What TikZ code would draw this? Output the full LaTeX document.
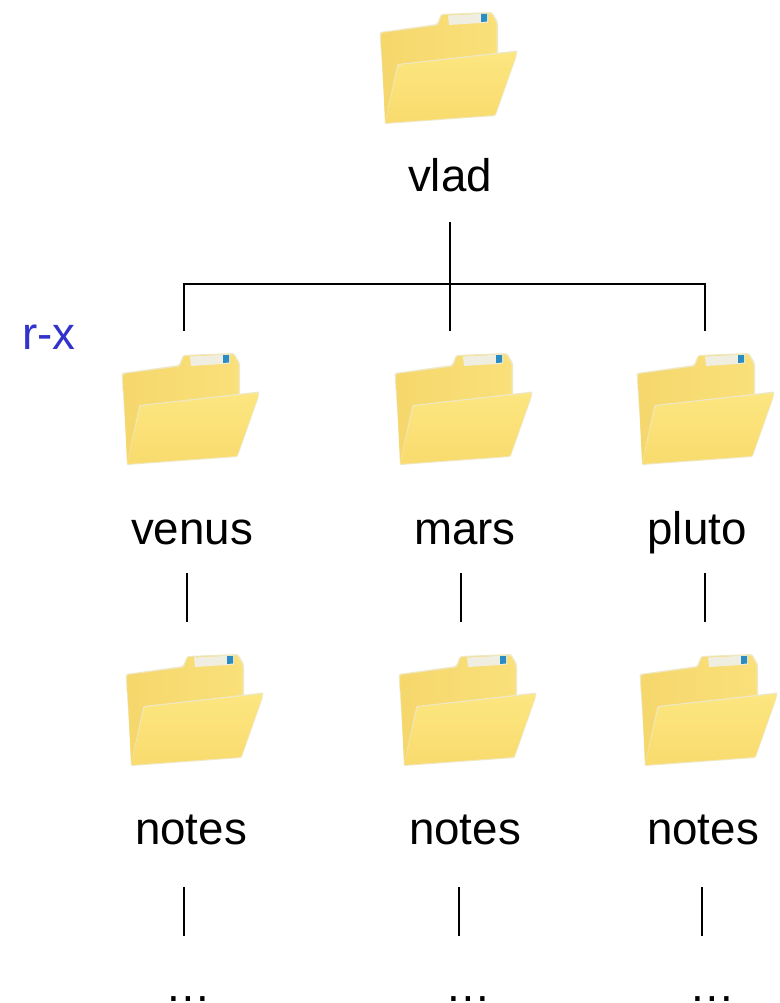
\documentclass[tikz,border=0pt]{standalone}
\usepackage{fontspec}
\setmainfont{Liberation Sans}
\definecolor{fbackA}{HTML}{F5D76C}
\definecolor{fbackB}{HTML}{FAE07A}
\definecolor{ffrontA}{HTML}{FCE680}
\definecolor{ffrontB}{HTML}{F9DB6E}
\definecolor{fedge}{HTML}{EFE8C4}
\definecolor{fpaper}{HTML}{EFEEE0}
\definecolor{ftag}{HTML}{2A8CC0}
\definecolor{permblue}{HTML}{3333CC}
\tikzset{
  x=1pt,y=-1pt,
  lab/.style={font=\fontsize{45.7pt}{50pt}\selectfont,anchor=base,inner sep=0pt,text=black},
  conn/.style={draw=black,line width=1.4pt},
  folder/.pic={
    \fill[fedge,rounded corners=1.5pt] (19.5,32) -- (77,24) -- (81,14) -- (132,12) -- (138,22) -- (138,56) -- (100,100) -- (26,124.5) -- cycle;
    \shade[left color=fbackA,right color=fbackB,rounded corners=1.5pt] (21,33) -- (78,25.5) -- (82,15) -- (131.5,13.5) -- (136.5,23) -- (136.5,60) -- (100,100) -- (25,123) -- cycle;
    \fill[fpaper] (88,15.5) -- (128,13.5) -- (128,22.5) -- (89,25) -- cycle;
    \fill[ftag] (121,14) -- (127,14) -- (127,21.5) -- (121,22) -- cycle;
    \fill[fedge,rounded corners=1pt] (37.5,64) -- (157.5,50.5) -- (156,58) -- (135.5,116) -- (24.5,124) -- cycle;
    \shade[top color=ffrontA,bottom color=ffrontB,rounded corners=1.5pt] (38.5,65) -- (156.5,52) -- (155,58) -- (135,115) -- (25,123) -- cycle;
  }
}
\begin{document}
\begin{tikzpicture}
\useasboundingbox[fill=white] (0,0) rectangle (779,1003);
\pic (fvlad) at (360,0) {folder};
\pic (fvenus) at (102,341) {folder};
\pic (fmars) at (375,341) {folder};
\pic (fpluto) at (617,341) {folder};
\pic (fnotesa) at (106,642) {folder};
\pic (fnotesb) at (379,642) {folder};
\pic (fnotesc) at (620,642) {folder};
\node[lab] (vlad) at (450,192) {vlad};
\node[lab] (venus) at (192,544) {venus};
\node[lab] (mars) at (465,544) {mars};
\node[lab] (pluto) at (697,544) {pluto};
\node[lab] (notesa) at (191,844) {notes};
\node[lab] (notesb) at (465,844) {notes};
\node[lab] (notesc) at (703,844) {notes};
\node[lab,text=permblue] (perm) at (49,349) {r-x};
\node[lab] (dotsa) at (188,1001) {…};
\node[lab] (dotsb) at (468,1001) {…};
\node[lab] (dotsc) at (712,1001) {…};
\coordinate (trunktop) at (450,222);
\coordinate (trunkbot) at (450,331);
\coordinate (barl) at (184,284);
\coordinate (barm) at (450,284);
\coordinate (barr) at (705,284);
\coordinate (dropl) at (184,331);
\coordinate (dropr) at (705,331);
\coordinate (a1) at (187,573); \coordinate (a2) at (187,622);
\coordinate (b1) at (461,573); \coordinate (b2) at (461,622);
\coordinate (c1) at (705,573); \coordinate (c2) at (705,622);
\coordinate (d1) at (184,887); \coordinate (d2) at (184,936);
\coordinate (e1) at (459,887); \coordinate (e2) at (459,936);
\coordinate (f1) at (702,887); \coordinate (f2) at (702,936);
\draw[conn] (trunktop) -- (trunkbot);
\draw[conn] (dropl) -- (barl) -- (barm) -- (barr) -- (dropr);
\draw[conn] (a1) -- (a2);
\draw[conn] (b1) -- (b2);
\draw[conn] (c1) -- (c2);
\draw[conn] (d1) -- (d2);
\draw[conn] (e1) -- (e2);
\draw[conn] (f1) -- (f2);
\end{tikzpicture}
\end{document}
